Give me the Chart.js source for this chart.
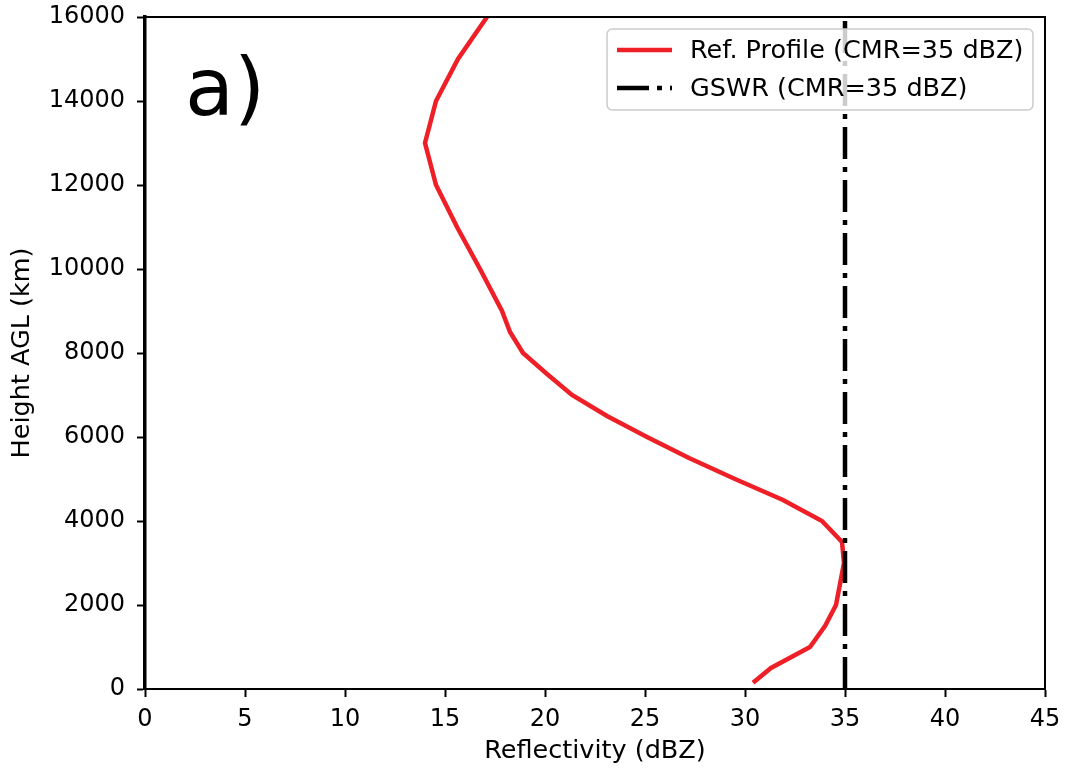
<!DOCTYPE html>
<html>
<head>
<meta charset="utf-8">
<script src="https://cdn.jsdelivr.net/npm/chart.js@4.4.1/dist/chart.umd.min.js"></script>
<style>
  body { margin: 0; background: #fff; }
  #wrap { width: 1069px; height: 774px; }
</style>
</head>
<body>
<div id="wrap"><canvas id="profileChart" width="1069" height="774"></canvas></div>
<script>
// Datos
const heights = [150, 500, 1000, 1500, 2000, 2500, 3000, 3500, 4000, 4500, 5000, 5500, 6000,
                 6500, 7000, 7500, 8000, 8500, 9000, 10000, 11000, 12000, 13000, 14000, 15000, 16000];
const refProfile = [30.4, 31.3, 33.25, 34.0, 34.55, 34.75, 34.95, 34.85, 33.85, 31.9, 29.5, 27.2, 25.1,
                    23.1, 21.35, 20.1, 18.9, 18.25, 17.85, 16.75, 15.6, 14.55, 14.0, 14.55, 15.65, 17.1];
const gswrValue = 35;
const gswrHeights = [0, 16000];
const xTicks = [0, 5, 10, 15, 20, 25, 30, 35, 40, 45];
const yTicks = [0, 2000, 4000, 6000, 8000, 10000, 12000, 14000, 16000];
const panelLabel = 'a)';

const FONT = 'DejaVu Sans';

// Marco superior/derecho, etiqueta del panel y leyenda
const framePlugin = {
    id: 'frame',
    afterDraw(chart) {
        const ctx = chart.ctx;
        const a = chart.chartArea;
        ctx.save();
        ctx.strokeStyle = '#000';
        ctx.lineWidth = 2;
        ctx.beginPath();
        ctx.moveTo(a.left, a.top);
        ctx.lineTo(a.right, a.top);
        ctx.lineTo(a.right, a.bottom);
        ctx.stroke();

        // etiqueta "a)"
        ctx.fillStyle = '#000';
        ctx.font = '80px "' + FONT + '"';
        ctx.textBaseline = 'alphabetic';
        ctx.textAlign = 'left';
        ctx.fillText(panelLabel, a.left + 40, 115);

        // leyenda
        const bx = 607, by = 29, bw = 426, bh = 81, r = 6;
        ctx.beginPath();
        ctx.moveTo(bx + r, by);
        ctx.lineTo(bx + bw - r, by);
        ctx.quadraticCurveTo(bx + bw, by, bx + bw, by + r);
        ctx.lineTo(bx + bw, by + bh - r);
        ctx.quadraticCurveTo(bx + bw, by + bh, bx + bw - r, by + bh);
        ctx.lineTo(bx + r, by + bh);
        ctx.quadraticCurveTo(bx, by + bh, bx, by + bh - r);
        ctx.lineTo(bx, by + r);
        ctx.quadraticCurveTo(bx, by, bx + r, by);
        ctx.closePath();
        ctx.fillStyle = 'rgba(255,255,255,0.8)';
        ctx.fill();
        ctx.strokeStyle = '#cccccc';
        ctx.lineWidth = 1.5;
        ctx.stroke();

        chart.data.datasets.forEach((ds, i) => {
            const y = 50 + i * 38;
            ctx.strokeStyle = ds.borderColor;
            ctx.lineWidth = ds.borderWidth;
            ctx.setLineDash(ds.borderDash || []);
            ctx.beginPath();
            ctx.moveTo(617, y);
            ctx.lineTo(672, y);
            ctx.stroke();
            ctx.setLineDash([]);
            ctx.fillStyle = '#000';
            ctx.font = '25.5px "' + FONT + '"';
            ctx.textBaseline = 'middle';
            ctx.fillText(ds.label, 690, y + 1);
        });
        ctx.restore();
    }
};

const ctx = document.getElementById('profileChart').getContext('2d');
new Chart(ctx, {
    type: 'scatter',
    data: {
        datasets: [{
            label: 'Ref. Profile (CMR=35 dBZ)',
            data: heights.map((h, i) => ({ x: refProfile[i], y: h })),
            showLine: true,
            borderColor: '#ee1f26',
            borderWidth: 4.5,
            pointRadius: 0,
            tension: 0,
            order: 1
        }, {
            label: 'GSWR (CMR=35 dBZ)',
            data: gswrHeights.map(h => ({ x: gswrValue, y: h })),
            showLine: true,
            borderColor: '#000',
            borderWidth: 4.5,
            borderDash: [32, 8, 5, 8],
            pointRadius: 0,
            order: 0
        }]
    },
    options: {
        responsive: false,
        animation: false,
        layout: { padding: { top: 17, right: 24, left: 0, bottom: 0 } },
        plugins: {
            legend: { display: false },
            tooltip: { enabled: false }
        },
        scales: {
            x: {
                type: 'linear',
                min: 0,
                max: 45,
                afterBuildTicks: s => { s.ticks = xTicks.map(v => ({ value: v })); },
                afterFit: s => { s.height = 85; s.paddingLeft = 0; s.paddingRight = 0; },
                ticks: {
                    color: '#000',
                    padding: 8,
                    maxRotation: 0,
                    font: { family: FONT, size: 24 }
                },
                grid: {
                    drawOnChartArea: false,
                    tickLength: 8,
                    tickWidth: 2,
                    tickColor: '#000'
                },
                border: { color: '#000', width: 2 },
                title: {
                    display: true,
                    text: 'Reflectivity (dBZ)',
                    color: '#000',
                    font: { family: FONT, size: 25.5 },
                    padding: { top: 0, bottom: 7 }
                }
            },
            y: {
                type: 'linear',
                min: 0,
                max: 16000,
                afterBuildTicks: s => { s.ticks = yTicks.map(v => ({ value: v })); },
                afterFit: s => { s.width = 145; s.paddingTop = 0; s.paddingBottom = 0; },
                ticks: {
                    color: '#000',
                    padding: 12,
                    font: { family: FONT, size: 24 },
                    callback: v => String(v)
                },
                grid: {
                    drawOnChartArea: false,
                    tickLength: 8,
                    tickWidth: 2,
                    tickColor: '#000'
                },
                border: { color: '#000', width: 3.5 },
                title: {
                    display: true,
                    text: 'Height AGL (km)',
                    color: '#000',
                    font: { family: FONT, size: 25.5 },
                    padding: { top: 7, bottom: 0 }
                }
            }
        }
    },
    plugins: [framePlugin]
});
</script>
</body>
</html>
